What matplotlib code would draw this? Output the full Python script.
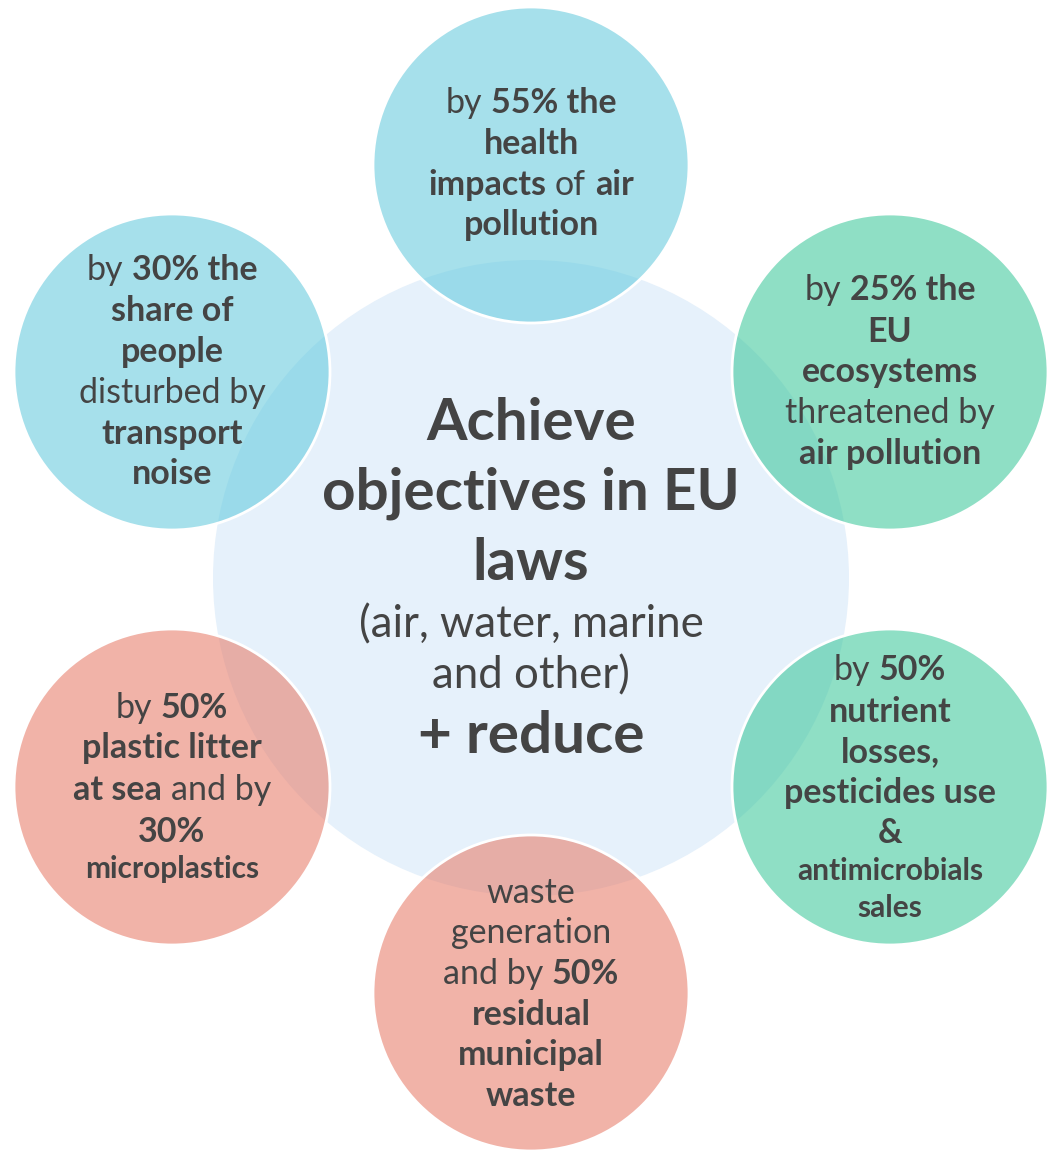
import matplotlib
matplotlib.use("Agg")
import matplotlib.pyplot as plt
from matplotlib.patches import Circle
from matplotlib.font_manager import FontProperties
from matplotlib.colors import to_rgba

# text of each bubble: list of lines, each line a list of (text, bold) pieces
center_lines = [
    [("Achieve", True)],
    [("objectives in EU", True)],
    [("laws", True)],
    [("(air, water, marine", False)],
    [("and other)", False)],
    [("+ reduce", True)],
]
top_lines = [
    [("by", False), ("55% the", True)],
    [("health", True)],
    [("impacts", True), ("of", False), ("air", True)],
    [("pollution", True)],
]
top_left_lines = [
    [("by", False), ("30% the", True)],
    [("share of", True)],
    [("people", True)],
    [("disturbed by", False)],
    [("transport", True)],
    [("noise", True)],
]
top_right_lines = [
    [("by", False), ("25% the", True)],
    [("EU", True)],
    [("ecosystems", True)],
    [("threatened by", False)],
    [("air pollution", True)],
]
bottom_left_lines = [
    [("by", False), ("50%", True)],
    [("plastic litter", True)],
    [("at sea", True), ("and by", False)],
    [("30%", True)],
    [("microplastics", True)],
]
bottom_right_lines = [
    [("by", False), ("50%", True)],
    [("nutrient", True)],
    [("losses,", True)],
    [("pesticides use", True)],
    [("&", True)],
    [("antimicrobials", True)],
    [("sales", True)],
]
bottom_lines = [
    [("waste", False)],
    [("generation", False)],
    [("and by", False), ("50%", True)],
    [("residual", True)],
    [("municipal", True)],
    [("waste", True)],
]

FONT = "Lato"
TXT = "#444444"
BLUE = (93 / 255, 200 / 255, 220 / 255)
GREEN = (51 / 255, 197 / 255, 150 / 255)
RED = (231 / 255, 117 / 255, 97 / 255)

fig = plt.figure(figsize=(10.5, 11.5), dpi=100)
ax = fig.add_axes([0, 0, 1, 1])
ax.set_xlim(0, 1050)
ax.set_ylim(1150, 0)
ax.set_aspect("equal")
ax.axis("off")
renderer = fig.canvas.get_renderer()


def text_width(s, bold, size):
    fp = FontProperties(family=FONT, weight="bold" if bold else "normal", size=size)
    w, h, d = renderer.get_text_width_height_descent(s, fp, ismath=False)
    return w


def draw_line(cx, y, pieces, size):
    # measure pieces, then place them left to right, centred on cx
    widths = [text_width(t, b, size) for t, b in pieces]
    space = text_width("a a", False, size) - text_width("aa", False, size)
    total = sum(widths) + space * (len(pieces) - 1)
    x = cx - total / 2
    for (t, b), w in zip(pieces, widths):
        ax.text(x, y, t, ha="left", va="baseline", fontsize=size,
                fontweight="bold" if b else "normal", family=FONT,
                color=TXT, zorder=5)
        x += w + space


def draw_block(cx, baselines, lines, sizes):
    for y, pieces, s in zip(baselines, lines, sizes):
        draw_line(cx, y, pieces, s)


# central bubble
ax.add_patch(Circle((531, 578), 318, facecolor="#e6f1fb", edgecolor="none", zorder=1))

outer = [
    ((531, 165), BLUE),
    ((172, 372), BLUE),
    ((890, 372), GREEN),
    ((172, 787), RED),
    ((890, 787), GREEN),
    ((531, 993), RED),
]
for (cx, cy), col in outer:
    ax.add_patch(Circle((cx, cy), 158, facecolor=to_rgba(col, 0.55),
                        edgecolor="white", linewidth=2, zorder=2))

S = 24.5
B = 42
M = 31.5
draw_block(531, [440, 510, 580, 637, 688, 753], center_lines, [B, B, B, M, M, B])
draw_block(531, [113, 154, 195, 235], top_lines, [S] * 4)
draw_block(172, [280, 321, 362, 403, 444, 484], top_left_lines, [S] * 6)
draw_block(890, [300, 342, 382, 423, 464], top_right_lines, [S] * 5)
draw_block(172, [718, 758, 800, 842, 878], bottom_left_lines, [S] * 4 + [21.5])
draw_block(890, [680, 722, 762, 803, 843, 880, 917], bottom_right_lines, [S] * 5 + [21.5, 21.5])
draw_block(531, [903, 943, 984, 1025, 1065, 1106], bottom_lines, [S] * 6)

fig.savefig("out.png", dpi=100, facecolor="white")
